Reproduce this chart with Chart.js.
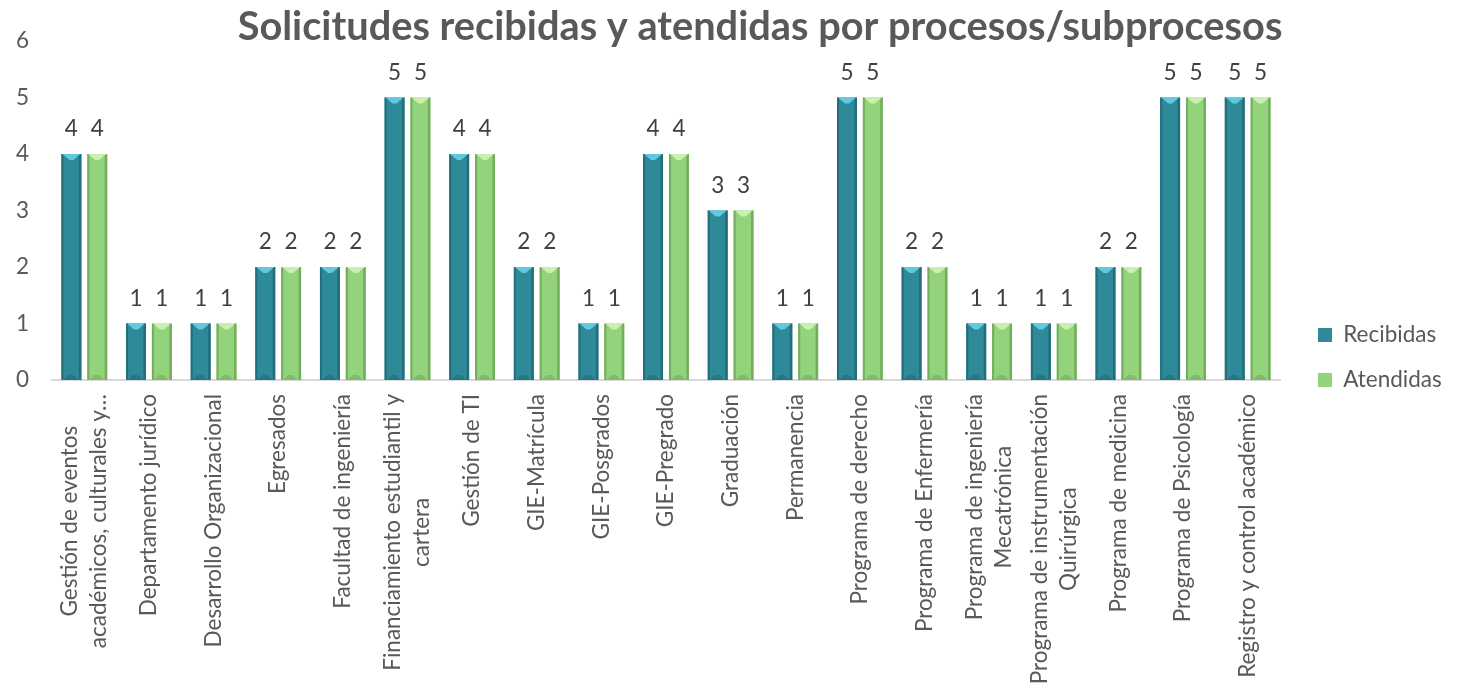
<!DOCTYPE html>
<html>
<head>
<meta charset="utf-8">
<script src="https://cdn.jsdelivr.net/npm/chart.js@4.4.0/dist/chart.umd.min.js"></script>
<style>
  html, body { margin: 0; padding: 0; background: #fff; }
  #wrap { width: 1460px; height: 687px; position: relative; }
</style>
</head>
<body>
<div id="wrap"><canvas id="chart"></canvas></div>
<script>
const categories = [
  ['Gestión de eventos', 'académicos, culturales y…'],
  'Departamento jurídico',
  'Desarrollo Organizacional',
  'Egresados',
  'Facultad de ingeniería',
  ['Financiamiento estudiantil y', 'cartera'],
  'Gestión de TI',
  'GIE-Matrícula',
  'GIE-Posgrados',
  'GIE-Pregrado',
  'Graduación',
  'Permanencia',
  'Programa de derecho',
  'Programa de Enfermería',
  ['Programa de ingeniería', 'Mecatrónica'],
  ['Programa de instrumentación', 'Quirúrgica'],
  'Programa de medicina',
  'Programa de Psicología',
  'Registro y control académico'
]
const recibidas = [4, 1, 1, 2, 2, 5, 4, 2, 1, 4, 3, 1, 5, 2, 1, 1, 2, 5, 5]
const atendidas = [4, 1, 1, 2, 2, 5, 4, 2, 1, 4, 3, 1, 5, 2, 1, 1, 2, 5, 5]
const yTicks = [0, 1, 2, 3, 4, 5, 6]
const chartTitle = 'Solicitudes recibidas y atendidas por procesos/subprocesos'

const FONT = 'Lato, "Open Sans", sans-serif'
const TEXT = '#595959'

// pick a text size so the longest label is as long as in the original
const probe = document.createElement('canvas').getContext('2d')
probe.font = '20px ' + FONT
const FS = Math.round(20 * 290 / probe.measureText('Programa de instrumentación').width * 10) / 10

const shades = [
  {face: '#2E8A99', edge: '#236E7B', top: '#5FC9DF', bottom: '#267784'},
  {face: '#93D37B', edge: '#72AE5D', top: '#C9F0AF', bottom: '#7FBB69'}
]

// fake the excel bevel on top of the library bars
const bevelPlugin = {
  id: 'bevel',
  afterDatasetsDraw(chart) {
    const ctx = chart.ctx
    chart.data.datasets.forEach((ds, di) => {
      const s = shades[di]
      chart.getDatasetMeta(di).data.forEach(bar => {
        const {x, y, base, width} = bar.getProps(['x', 'y', 'base', 'width'], true)
        const l = x - width / 2, r = x + width / 2, h = base - y
        if (h <= 0) return
        ctx.save()
        ctx.fillStyle = s.edge
        ctx.fillRect(l, y, 2, h)
        ctx.fillRect(r - 2.5, y, 2.5, h)
        ctx.fillStyle = s.top
        ctx.beginPath()
        ctx.moveTo(l + 1, y)
        ctx.lineTo(r - 1, y)
        ctx.lineTo(x + 2, y + 6)
        ctx.lineTo(x - 2, y + 6)
        ctx.closePath()
        ctx.fill()
        ctx.fillStyle = s.bottom
        ctx.beginPath()
        ctx.moveTo(l + 2, base)
        ctx.lineTo(r - 3, base)
        ctx.lineTo(x + 2, base - 5)
        ctx.lineTo(x - 3, base - 5)
        ctx.closePath()
        ctx.fill()
        ctx.restore()
      })
    })
  }
}

const valueLabels = {
  id: 'valueLabels',
  afterDatasetsDraw(chart) {
    const ctx = chart.ctx
    ctx.save()
    ctx.font = FS + 'px ' + FONT
    ctx.fillStyle = '#404040'
    ctx.textAlign = 'center'
    ctx.textBaseline = 'alphabetic'
    chart.data.datasets.forEach((ds, di) => {
      chart.getDatasetMeta(di).data.forEach((bar, i) => {
        ctx.fillText(String(ds.data[i]), bar.x, bar.y - 18)
      })
    })
    ctx.restore()
  }
}

// rotated category labels, multi-line blocks centred like excel does
const xLabels = {
  id: 'xLabels',
  afterDraw(chart) {
    const ctx = chart.ctx
    const sc = chart.scales.x
    const top = chart.chartArea.bottom + 14
    const lh = 29
    ctx.save()
    ctx.font = FS + 'px ' + FONT
    ctx.fillStyle = TEXT
    ctx.textAlign = 'center'
    ctx.textBaseline = 'middle'
    categories.forEach((lab, i) => {
      const lines = Array.isArray(lab) ? lab : [lab]
      const maxW = Math.max(...lines.map(t => ctx.measureText(t).width))
      ctx.save()
      ctx.translate(sc.getPixelForTick(i), top)
      ctx.rotate(-Math.PI / 2)
      lines.forEach((t, k) => {
        ctx.fillText(t, -maxW / 2, (k - (lines.length - 1) / 2) * lh)
      })
      ctx.restore()
    })
    ctx.restore()
  }
}

const titlePlugin = {
  id: 'bigTitle',
  afterDraw(chart) {
    const ctx = chart.ctx
    ctx.save()
    let size = 38
    ctx.font = 'bold ' + size + 'px ' + FONT
    const w = ctx.measureText(chartTitle).width
    size = Math.min(40, size * 1045 / w)
    ctx.font = 'bold ' + size + 'px ' + FONT
    ctx.fillStyle = TEXT
    ctx.textAlign = 'center'
    ctx.textBaseline = 'alphabetic'
    ctx.fillText(chartTitle, 760, 40)
    ctx.restore()
  }
}

// move the legend block to where excel put it
const legendShift = {
  id: 'legendShift',
  afterLayout(chart) {
    const lg = chart.legend
    if (!lg) return
    const pad = lg.options.labels.padding
    const colH = lg.columnSizes ? lg.columnSizes[0].height : 90
    const curY = (lg.top + pad + lg.bottom - colH) / 2
    const dy = (335 - FS / 2) - curY
    const dx = 1318 - (lg.left + pad)
    lg.left += dx
    lg.right = chart.width
    lg.top += dy; lg.bottom += dy
  }
}

new Chart(document.getElementById('chart'), {
  type: 'bar',
  data: {
    labels: categories,
    datasets: [
      {label: 'Recibidas', data: recibidas, backgroundColor: shades[0].face, borderWidth: 0},
      {label: 'Atendidas', data: atendidas, backgroundColor: shades[1].face, borderWidth: 0}
    ]
  },
  options: {
    responsive: true,
    maintainAspectRatio: false,
    animation: false,
    layout: {padding: {top: 41, left: 0, right: 50, bottom: 0}},
    datasets: {bar: {categoryPercentage: 0.8, barPercentage: 0.77}},
    scales: {
      x: {
        grid: {display: false},
        border: {display: true, color: '#D9D9D9', width: 2},
        ticks: {display: false},
        afterFit(scale) { scale.height = 307 }
      },
      y: {
        min: 0,
        max: 6,
        afterBuildTicks(scale) { scale.ticks = yTicks.map(v => ({value: v})) },
        afterFit(scale) { scale.width = 52 },
        grid: {display: false, drawTicks: false},
        border: {display: false},
        ticks: {padding: 23, color: TEXT, font: {family: FONT, size: FS}}
      }
    },
    plugins: {
      title: {display: false},
      tooltip: {enabled: false},
      legend: {
        position: 'right',
        maxWidth: 130,
        labels: {
          boxWidth: 14,
          boxHeight: 14,
          padding: 45 - FS,
          color: TEXT,
          font: {family: FONT, size: FS}
        }
      }
    }
  },
  plugins: [bevelPlugin, valueLabels, xLabels, titlePlugin, legendShift]
})
</script>
</body>
</html>
